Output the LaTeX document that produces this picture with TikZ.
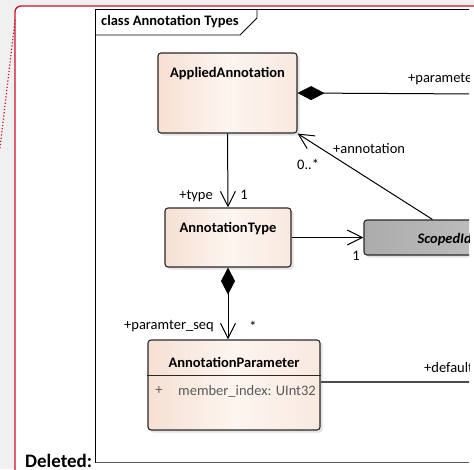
\documentclass[tikz,border=0pt]{standalone}
\usepackage{fontspec}
\setmainfont{Carlito}
\usepackage{tikz}
\usetikzlibrary{arrows.meta,positioning,shadows}
\definecolor{pagegrey}{RGB}{240,240,240}
\definecolor{crimson}{RGB}{200,16,46}
\definecolor{ink}{RGB}{40,40,40}
\definecolor{peach}{RGB}{246,224,210}
\definecolor{peachlight}{RGB}{253,245,240}
\definecolor{idgreyd}{RGB}{172,172,172}
\definecolor{idgreyl}{RGB}{204,204,204}

\begin{document}
\begin{tikzpicture}[x=1pt, y=-1pt,
  font=\fontsize{14.5}{17}\selectfont,
  cls/.style={draw=ink, line width=1.1pt, rounded corners=3pt, left color=peach, right color=peach!70!white, middle color=peachlight, inner sep=0pt, drop shadow={shadow xshift=2.5pt, shadow yshift=-2.5pt, opacity=0.22}},
  abstr/.style={cls, left color=idgreyd, right color=idgreyl, middle color=idgreyd!60!idgreyl},
  title/.style={font=\fontsize{14.5}{17}\selectfont\bfseries, text=black},
  lbl/.style={inner sep=0pt, text=black},
  attr/.style={inner sep=0pt, text=black!65},
  nav/.style={-{Straight Barb[length=15pt,width=15pt,line width=1pt]}, line width=1pt, black},
  comp/.style={{Diamond[length=27pt,width=14pt]}-{Straight Barb[length=15pt,width=15pt,line width=1pt]}, line width=1pt, black},
  compfree/.style={{Diamond[length=27pt,width=14pt]}-, line width=1pt, black},
]
\useasboundingbox (0,0) rectangle (474,469);
\clip (0,0) rectangle (474,469);
% page and change mark
\fill[pagegrey] (0,0) rectangle (474,469);
\fill[white, rounded corners=6pt] (15,6) rectangle (500,500);
\draw[crimson, line width=1.3pt, rounded corners=6pt] (15,500) -- (15,6) -- (500,6);
\draw[crimson, line width=1.2pt, dotted] (15,20) -- (0,148);
\begin{scope}
\clip (0,0) rectangle (469,469);
% frame
\draw[black, line width=0.9pt] (95.5,462.5) -- (95.5,9.5) -- (480,9.5);
\draw[black!65, line width=1.6pt] (95.5,462.5) -- (480,462.5);
\draw[black, line width=0.9pt] (95.5,35) -- (240,35) -- (257,18) -- (257,9.5);
\node[title, anchor=west, inner sep=0pt] (frameTitle) at (101,22) {class Annotation Types};
% classes
\node[cls, minimum width=139pt, minimum height=80pt] (appl) at (227.5,93) {};
\node[title] (applName) at (227.5,74) {AppliedAnnotation};
\node[cls, minimum width=126pt, minimum height=59pt] (atype) at (228,237.5) {};
\node[title] (atypeName) at (228,229) {AnnotationType};
\node[abstr, minimum width=180pt, minimum height=35pt] (scid) at (454,237.5) {};
\node[title, font=\fontsize{14.5}{17}\selectfont\bfseries\itshape, anchor=west] (scidName) at (414,240) {ScopedIdentifier};
\node[cls, minimum width=172pt, minimum height=90pt] (aparam) at (234,385) {};
\node[title] (aparamName) at (234,362) {AnnotationParameter};
\draw[ink, line width=1pt] (aparam.west |- 0,375) -- (aparam.east |- 0,375);
\node[attr] (attrVis) at (159,391) {+};
\node[attr, anchor=west] (attrName) at (178,391) {member\_index: UInt32};
% loose ends
\coordinate (paramEnd) at (480,94);
\coordinate (defaultEnd) at (480,382);
\coordinate (annSrc) at ([xshift=69pt]scid.north west);
% connectors
\draw[compfree] (appl.east) -- (paramEnd);
\node[lbl, anchor=west] (paramRole) at (408,79) {+parameter};
\draw[nav] (annSrc) -- (appl.south east);
\node[lbl, anchor=west] (annRole) at (333,149) {+annotation};
\node[lbl, anchor=west] (annMult) at (297,164) {0..*};
\draw[nav] (appl.south) -- (atype.north);
\node[lbl, anchor=east] (typeRole) at (213,196) {+type};
\node[lbl] (typeMult) at (244,195) {1};
\draw[nav] (atype.east) -- (scid.west);
\node[lbl] (scidMult) at (356,256) {1};
\draw[comp] (atype.south) -- (atype.south |- aparam.north);
\node[lbl, anchor=east] (seqRole) at (214,326) {+paramter\_seq};
\node[lbl] (seqMult) at (253,326) {*};
\draw[black!70, line width=1.4pt] (aparam.east |- defaultEnd) -- (defaultEnd);
\node[lbl, anchor=west] (defRole) at (424,368) {+default};
\end{scope}
\node[font=\fontsize{19}{22}\selectfont\bfseries, anchor=base west, inner sep=0pt] (deleted) at (25,467) {Deleted:};
\end{tikzpicture}
\end{document}
